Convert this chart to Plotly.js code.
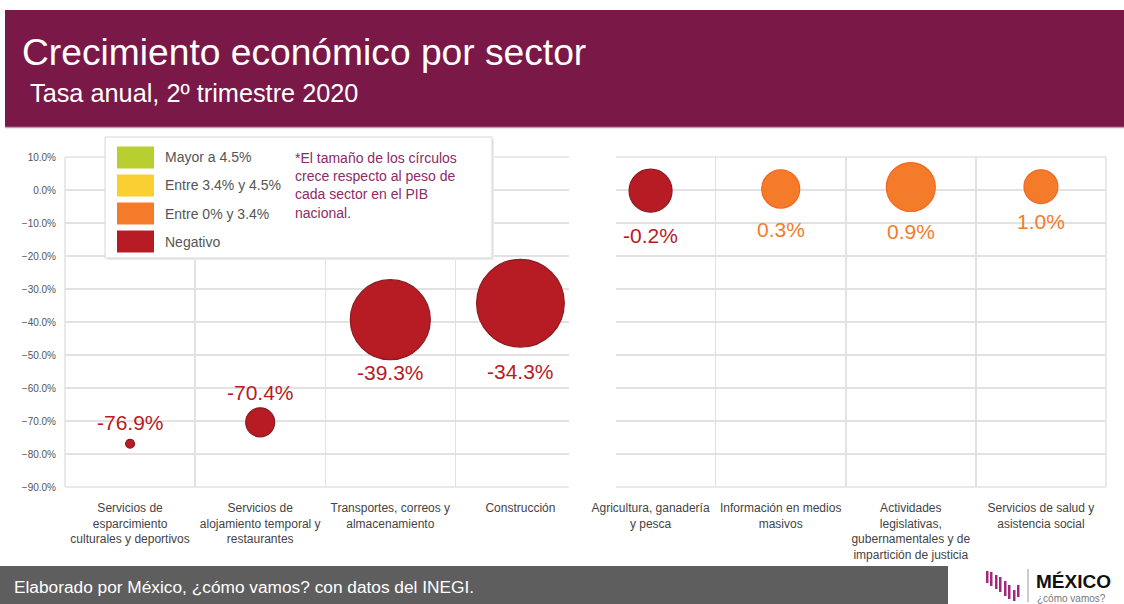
<!DOCTYPE html>
<html>
<head>
<meta charset="utf-8">
<script src="https://cdn.plot.ly/plotly-3.0.1.min.js"></script>
<style>html,body{margin:0;padding:0;background:#fff;}#chart{width:1124px;height:604px;}</style>
</head>
<body>
<div id="chart"></div>
<script>
// ---- Data ----
const categorias = [
  'Servicios de<br>esparcimiento<br>culturales y deportivos',
  'Servicios de<br>alojamiento temporal y<br>restaurantes',
  'Transportes, correos y<br>almacenamiento',
  'Construcción',
  'Agricultura, ganadería<br>y pesca',
  'Información en medios<br>masivos',
  'Actividades<br>legislativas,<br>gubernamentales y de<br>impartición de justicia',
  'Servicios de salud y<br>asistencia social'
];
const tasas = [-76.9, -70.4, -39.3, -34.3, -0.2, 0.3, 0.9, 1.0];
const pesoPIB = [0.08, 0.84, 6.4, 7.7, 1.85, 1.45, 2.4, 1.15];
const leyendaTextos = ['Mayor a 4.5%', 'Entre 3.4% y 4.5%', 'Entre 0% y 3.4%', 'Negativo'];
const nota = '*El tamaño de los círculos<br>crece respecto al peso de<br>cada sector en el PIB<br>nacional.';
const titulo = 'Crecimiento económico por sector';
const subtitulo = 'Tasa anual, 2º trimestre 2020';
const fuente = 'Elaborado por México, ¿cómo vamos? con datos del INEGI.';

// ---- Styles ----
const leyendaColores = ['#b8cf2f', '#f9cf31', '#f47b2a', '#b71c24'];
const bordeColores = ['#a3b828', '#e8bd20', '#f26522', '#8b1a22'];
const etiquetaDesplazamiento = [21, 30, -53, -68, -45, -40, -44, -35];
function claseDe(v) { return v < 0 ? 3 : (v <= 3.4 ? 2 : (v <= 4.5 ? 1 : 0)); }
const FONT = 'Liberation Sans, Arial, Helvetica, sans-serif';
const GRID = '#e2e2e2';

// plot area in pixels
const L = 65, R = 1106, T = 157, B = 487;
const px = x => (x - L) / (R - L);
const py = y => (B - y) / (B - T);

const trace = {
  type: 'scatter', mode: 'markers',
  x: categorias, y: tasas,
  marker: {
    size: pesoPIB, sizemode: 'area', sizeref: 0.002,
    color: tasas.map(v => leyendaColores[claseDe(v)]),
    line: { color: tasas.map(v => bordeColores[claseDe(v)]), width: 1.2 },
    opacity: 1
  },
  hoverinfo: 'skip', showlegend: false, cliponaxis: false
};

const shapes = [];
const annotations = [];

// header
shapes.push({ type: 'rect', xref: 'paper', yref: 'paper', x0: px(5), x1: px(1124), y0: py(127), y1: py(10), fillcolor: '#7a1848', line: { width: 0 }, layer: 'above' });
shapes.push({ type: 'line', xref: 'paper', yref: 'paper', x0: px(5), x1: px(1124), y0: py(127.5), y1: py(127.5), line: { color: '#c79bb3', width: 1.5 }, layer: 'above' });
annotations.push({ xref: 'paper', yref: 'paper', x: px(20), y: py(52), xanchor: 'left', yanchor: 'middle', showarrow: false, text: titulo, font: { family: FONT, size: 37.2, color: '#ffffff' } });
annotations.push({ xref: 'paper', yref: 'paper', x: px(28), y: py(93), xanchor: 'left', yanchor: 'middle', showarrow: false, text: subtitulo, font: { family: FONT, size: 25.3, color: '#ffffff' } });

// plot frame edges (same look as the grid)
shapes.push({ type: 'line', xref: 'paper', yref: 'paper', x0: 0, x1: 1, y0: 1, y1: 1, line: { color: GRID, width: 1.5 }, layer: 'above' });
shapes.push({ type: 'line', xref: 'paper', yref: 'paper', x0: 0, x1: 1, y0: 0, y1: 0, line: { color: GRID, width: 1.5 }, layer: 'above' });
shapes.push({ type: 'line', xref: 'paper', yref: 'paper', x0: 0, x1: 0, y0: 0, y1: 1, line: { color: GRID, width: 1.5 }, layer: 'above' });
shapes.push({ type: 'line', xref: 'paper', yref: 'paper', x0: 1, x1: 1, y0: 0, y1: 1, line: { color: GRID, width: 1.5 }, layer: 'above' });

// gap between the two panels
shapes.push({ type: 'rect', xref: 'paper', yref: 'paper', x0: px(569), x1: px(616), y0: py(492), y1: py(150), fillcolor: '#ffffff', line: { width: 0 }, layer: 'above' });

// legend box
shapes.push({ type: 'rect', xref: 'paper', yref: 'paper', x0: px(107), x1: px(494), y0: py(260), y1: py(139), fillcolor: '#ececec', line: { width: 0 }, layer: 'above' });
shapes.push({ type: 'rect', xref: 'paper', yref: 'paper', x0: px(105), x1: px(492), y0: py(258), y1: py(137), fillcolor: '#ffffff', line: { color: '#d6d6d6', width: 1 }, layer: 'above' });
leyendaTextos.forEach((t, i) => {
  const cy = 157.5 + i * 28;
  shapes.push({ type: 'rect', xref: 'paper', yref: 'paper', x0: px(117), x1: px(154), y0: py(cy + 11), y1: py(cy - 11), fillcolor: leyendaColores[i], line: { color: '#ffffff', width: 0 }, layer: 'above' });
  annotations.push({ xref: 'paper', yref: 'paper', x: px(163), y: py(cy), xanchor: 'left', yanchor: 'middle', showarrow: false, text: t, font: { family: FONT, size: 14, color: '#555555' } });
});
annotations.push({ xref: 'paper', yref: 'paper', x: px(293), y: py(148), xanchor: 'left', yanchor: 'top', align: 'left', showarrow: false, text: nota, font: { family: FONT, size: 14, color: '#8e2a66' } });

// bubble labels
tasas.forEach((v, i) => {
  annotations.push({ x: categorias[i], y: v, xref: 'x', yref: 'y', showarrow: false, yshift: etiquetaDesplazamiento[i], text: v.toFixed(1) + '%', font: { family: FONT, size: 21, color: leyendaColores[claseDe(v)] } });
});

// footer
shapes.push({ type: 'rect', xref: 'paper', yref: 'paper', x0: px(0), x1: px(948), y0: py(604), y1: py(566), fillcolor: '#5e5e5e', line: { width: 0 }, layer: 'above' });
annotations.push({ xref: 'paper', yref: 'paper', x: px(12), y: py(587), xanchor: 'left', yanchor: 'middle', showarrow: false, text: fuente, font: { family: FONT, size: 17.3, color: '#ffffff' } });

// logo
const logoBars = [[986, 571, 583], [990, 572, 586], [995, 575, 589], [999, 577, 592], [1004, 581, 596], [1008, 585, 599], [1013, 590, 601], [1017, 585, 597]];
logoBars.forEach(b => {
  shapes.push({ type: 'rect', xref: 'paper', yref: 'paper', x0: px(b[0]), x1: px(b[0] + 2.5), y0: py(b[2]), y1: py(b[1]), fillcolor: '#a3287a', line: { width: 0 }, layer: 'above' });
});
shapes.push({ type: 'line', xref: 'paper', yref: 'paper', x0: px(1028), x1: px(1028), y0: py(602), y1: py(569), line: { color: '#9a9a9a', width: 1 }, layer: 'above' });
annotations.push({ xref: 'paper', yref: 'paper', x: px(1034), y: py(581), xanchor: 'left', yanchor: 'middle', showarrow: false, text: '<b>MÉXICO</b>', font: { family: FONT, size: 19, color: '#111111' } });
annotations.push({ xref: 'paper', yref: 'paper', x: px(1035), y: py(598), xanchor: 'left', yanchor: 'middle', showarrow: false, text: '¿cómo vamos?', font: { family: FONT, size: 10, color: '#777777' } });

const layout = {
  width: 1124, height: 604,
  margin: { l: L, r: 1124 - R, t: T, b: 604 - B, pad: 0 },
  paper_bgcolor: '#ffffff', plot_bgcolor: '#ffffff',
  hovermode: false, showlegend: false,
  xaxis: {
    type: 'category', range: [-0.5, 7.5], tickson: 'boundaries',
    showgrid: true, gridcolor: GRID, gridwidth: 1.5,
    showline: false, zeroline: false, ticks: '', ticklabelstandoff: 12,
    tickfont: { family: FONT, size: 12, color: '#444444' }, fixedrange: true
  },
  yaxis: {
    range: [-90, 10], dtick: 10, tick0: 0, tickformat: '.1f', ticksuffix: '%',
    showgrid: true, gridcolor: GRID, gridwidth: 1.5,
    showline: false, zeroline: false, ticks: '', ticklabelstandoff: 8,
    tickfont: { family: FONT, size: 10, color: '#555555' }, fixedrange: true
  },
  shapes: shapes,
  annotations: annotations
};

Plotly.newPlot('chart', [trace], layout, { displayModeBar: false, staticPlot: true });
</script>
</body>
</html>
